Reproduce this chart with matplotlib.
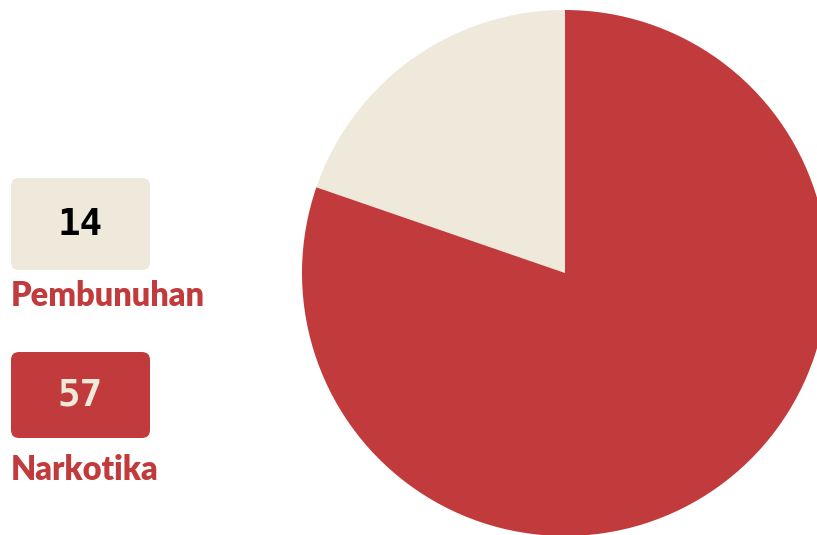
import matplotlib.pyplot as plt
from matplotlib.patches import FancyBboxPatch

# data
categories = ["Pembunuhan", "Narkotika"]
values = [14, 57]
colors = ["#EFE9DC", "#C23B3C"]
number_colors = ["#000000", "#EFE9DC"]

W, H = 817, 535
fig = plt.figure(figsize=(W / 100, H / 100), dpi=100)
ax = fig.add_axes([0, 0, 1, 1])

# pie, partly cut off at the right edge
ax.pie(
    values,
    colors=colors,
    startangle=90,
    counterclock=True,
    center=(565, H - 273),
    radius=263,
    frame=True,
    wedgeprops={"linewidth": 0},
)
ax.set_xlim(0, W)
ax.set_ylim(0, H)
ax.set_aspect("equal")
ax.axis("off")

# legend boxes (top, height in pixels)
box_tops = [178, 352]
box_heights = [92, 86]
label_y = [296, 470]
for i, (cat, val) in enumerate(zip(categories, values)):
    top = box_tops[i]
    h = box_heights[i]
    r = 8
    box = FancyBboxPatch(
        (11 + r, H - top - h + r),
        139 - 2 * r,
        h - 2 * r,
        boxstyle="round,pad=%d" % r,
        facecolor=colors[i],
        edgecolor="none",
    )
    ax.add_patch(box)
    ax.text(
        80,
        H - top - h / 2 - 1,
        str(val),
        ha="center",
        va="center",
        fontsize=27,
        fontweight="bold",
        family="DejaVu Sans Mono",
        color=number_colors[i],
    )
    ax.text(
        11,
        H - label_y[i],
        cat,
        ha="left",
        va="center",
        fontsize=23.5,
        fontweight="heavy",
        family="Lato",
        color="#C23B3C",
    )

fig.savefig("out.png", dpi=100)
